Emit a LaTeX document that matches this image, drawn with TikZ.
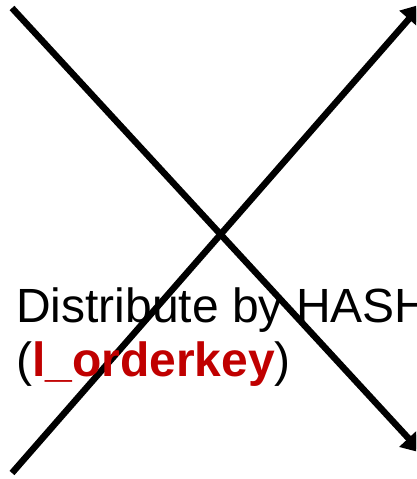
\documentclass[tikz,border=0pt]{standalone}
\usepackage{fontspec}
\setmainfont{Liberation Sans}
\usetikzlibrary{arrows.meta}
\definecolor{keyred}{HTML}{C00000}
\tikzset{
  bigline/.style={line width=6.5pt, line cap=butt},
  arrowline/.style={bigline, -{Triangle[length=20pt,width=24pt]}},
  lbl/.style={anchor=base west, inner sep=0pt, font=\fontsize{48pt}{56pt}\selectfont}
}
\begin{document}
\begin{tikzpicture}[x=1pt,y=1pt]
\useasboundingbox (0,0) rectangle (416,479);
\clip (0,0) rectangle (416,479);
\coordinate (a1) at (12,471);
\coordinate (a2) at (422,26);
\coordinate (b1) at (12,6);
\coordinate (b2) at (422,475);
\draw[arrowline] (a1) -- (a2);
\draw[arrowline] (b1) -- (b2);
\node[lbl] (t1) at (16,156) {Distribute by HASH};
\node[lbl] (t2) at (16,102) {(\textcolor{keyred}{\textbf{l\_orderkey}})};
\end{tikzpicture}
\end{document}
